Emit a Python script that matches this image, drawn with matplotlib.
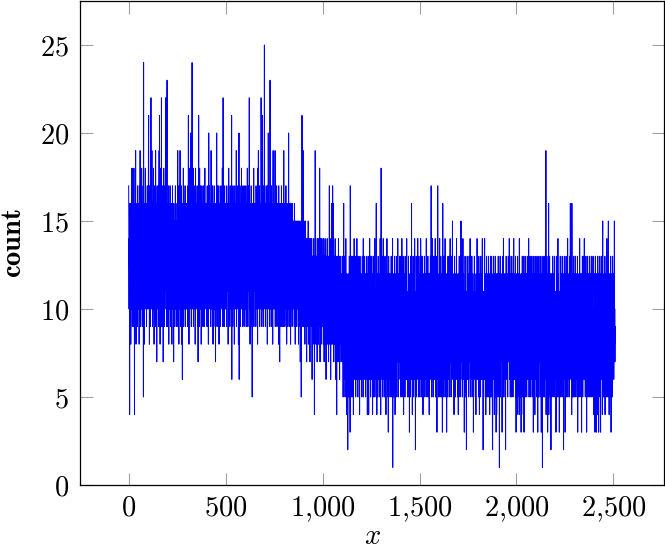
import numpy as np
import matplotlib
matplotlib.use("Agg")
import matplotlib.pyplot as plt
from matplotlib.ticker import FuncFormatter

plt.rcParams['mathtext.fontset'] = 'cm'
plt.rcParams['font.family'] = 'serif'

# counts, one value per x step (x = 0 .. 2509)
counts_0 = [
    17, 13, 10, 14, 12, 4, 9, 16, 11, 13, 15, 8, 16, 12, 10, 14, 18, 11, 13, 9, 12, 17, 10, 18, 14, 11, 9, 15, 13, 12, 4, 16, 10, 18, 12, 14, 19, 11, 8, 13, 15, 12, 10, 16, 13, 9, 17, 14, 11, 12,
    14, 10, 16, 12, 8, 17, 13, 11, 15, 19, 12, 9, 14, 16, 11, 13, 10, 18, 15, 12, 9, 16, 13, 11, 14, 17, 5, 24, 10, 15, 12, 8, 13, 16, 11, 14, 18, 10, 12, 15, 13, 16, 9, 11, 14, 12, 17, 10, 13, 15,
    12, 16, 19, 21, 10, 13, 15, 8, 17, 11, 14, 12, 9, 18, 13, 22, 11, 15, 16, 10, 19, 12, 14, 9, 16, 13, 11, 15, 18, 10, 13, 8, 17, 14, 12, 16, 11, 9, 13, 19, 15, 10, 16, 12, 14, 7, 13, 17, 11, 15,
    13, 10, 16, 12, 17, 9, 14, 19, 11, 21, 12, 15, 8, 16, 13, 10, 18, 14, 11, 22, 15, 9, 13, 17, 10, 12, 16, 14, 7, 15, 11, 18, 13, 9, 16, 12, 14, 10, 17, 13, 15, 22, 11, 16, 13, 9, 14, 17, 23, 12,
    13, 16, 9, 14, 11, 15, 17, 8, 13, 12, 16, 10, 14, 12, 17, 11, 15, 9, 14, 10, 13, 16, 12, 8, 15, 11, 17, 13, 10, 14, 15, 12, 7, 16, 13, 10, 11, 15, 9, 14, 12, 17, 10, 13, 16, 11, 14, 12, 9, 15,
    12, 15, 10, 19, 14, 9, 16, 12, 13, 8, 17, 11, 15, 13, 10, 19, 14, 12, 16, 9, 13, 15, 17, 11, 8, 16, 12, 6, 14, 13, 10, 15, 18, 12, 9, 14, 11, 16, 13, 10, 15, 17, 12, 9, 14, 11, 16, 13, 10, 12,
    14, 10, 16, 12, 15, 9, 17, 13, 21, 11, 15, 8, 13, 16, 12, 18, 10, 14, 11, 15, 20, 12, 16, 9, 13, 11, 17, 24, 13, 10, 14, 16, 12, 18, 9, 13, 15, 11, 17, 14, 10, 12, 16, 8, 15, 18, 11, 13, 14, 16,
    13, 15, 10, 17, 12, 9, 16, 14, 7, 15, 11, 21, 13, 16, 9, 12, 18, 11, 15, 14, 17, 10, 13, 16, 8, 14, 12, 11, 17, 13, 10, 15, 14, 9, 16, 12, 17, 11, 13, 15, 9, 14, 12, 18, 10, 16, 13, 11, 14, 12,
    14, 11, 16, 12, 9, 17, 15, 10, 13, 12, 16, 8, 14, 20, 13, 10, 15, 17, 11, 14, 12, 16, 9, 13, 11, 19, 12, 15, 10, 16, 13, 9, 17, 12, 15, 8, 14, 16, 11, 13, 15, 17, 10, 14, 12, 16, 9, 15, 7, 13,
    12, 16, 10, 15, 20, 13, 9, 17, 14, 11, 15, 12, 16, 10, 13, 17, 8, 15, 14, 11, 16, 12, 9, 15, 13, 10, 17, 14, 11, 12, 14, 16, 10, 18, 12, 15, 9, 22, 13, 11, 16, 12, 14, 9, 15, 17, 11, 13, 16, 10,
]
counts_500 = [
    13, 15, 10, 16, 12, 9, 17, 14, 11, 15, 12, 16, 13, 8, 15, 11, 18, 14, 10, 16, 12, 15, 9, 14, 17, 11, 16, 13, 10, 14, 12, 21, 6, 16, 11, 14, 15, 9, 17, 13, 10, 12, 16, 13, 15, 8, 14, 17, 11, 15,
    13, 16, 10, 14, 12, 19, 9, 13, 16, 11, 15, 12, 14, 17, 10, 15, 8, 13, 16, 20, 6, 13, 15, 11, 17, 12, 9, 16, 14, 15, 11, 13, 18, 10, 16, 12, 15, 9, 14, 17, 13, 10, 15, 16, 12, 9, 17, 13, 11, 14,
    16, 12, 14, 10, 17, 13, 9, 15, 11, 16, 12, 14, 18, 10, 13, 9, 16, 11, 15, 13, 17, 12, 22, 10, 15, 13, 8, 16, 14, 11, 15, 12, 17, 9, 14, 16, 11, 5, 15, 12, 13, 16, 10, 15, 12, 18, 9, 14, 16, 11,
    15, 12, 14, 16, 10, 15, 9, 17, 13, 11, 16, 10, 15, 12, 14, 8, 18, 15, 11, 19, 13, 16, 10, 12, 15, 17, 9, 14, 13, 16, 11, 15, 10, 22, 14, 12, 16, 9, 11, 15, 21, 14, 10, 16, 13, 15, 9, 17, 12, 13,
    25, 12, 15, 10, 16, 13, 9, 15, 11, 17, 12, 14, 16, 10, 15, 8, 14, 17, 11, 13, 20, 15, 10, 16, 13, 12, 9, 15, 11, 23, 14, 16, 10, 12, 15, 9, 17, 14, 11, 16, 12, 15, 13, 8, 16, 19, 10, 15, 12, 14,
    13, 16, 10, 15, 12, 19, 9, 14, 11, 16, 12, 15, 10, 17, 13, 9, 15, 11, 16, 12, 14, 10, 15, 8, 17, 12, 14, 16, 11, 7, 15, 12, 10, 16, 13, 9, 15, 11, 17, 12, 14, 16, 9, 15, 12, 10, 14, 16, 11, 9,
    19, 12, 15, 10, 14, 16, 9, 13, 15, 11, 14, 17, 10, 12, 15, 8, 14, 16, 11, 13, 15, 9, 14, 10, 12, 20, 11, 15, 13, 9, 14, 16, 10, 12, 15, 8, 13, 11, 16, 12, 10, 15, 12, 9, 14, 16, 11, 12, 15, 10,
    14, 11, 13, 15, 9, 16, 12, 10, 14, 8, 15, 12, 10, 14, 11, 13, 15, 9, 14, 11, 13, 10, 15, 11, 14, 12, 8, 15, 10, 13, 14, 9, 12, 15, 11, 7, 14, 13, 10, 15, 5, 12, 14, 10, 21, 13, 12, 9, 14, 11,
    19, 11, 14, 9, 13, 15, 10, 12, 14, 8, 13, 11, 15, 9, 12, 10, 14, 12, 7, 13, 11, 14, 9, 13, 10, 12, 15, 8, 13, 11, 9, 14, 12, 10, 13, 7, 12, 14, 10, 13, 11, 9, 13, 10, 14, 12, 6, 13, 10, 12,
    13, 10, 12, 9, 14, 11, 8, 12, 4, 11, 13, 9, 19, 10, 12, 14, 8, 13, 9, 11, 10, 13, 7, 12, 14, 10, 9, 13, 11, 8, 14, 10, 12, 13, 9, 18, 11, 7, 13, 9, 12, 14, 10, 8, 13, 11, 9, 14, 10, 12,
]
counts_1000 = [
    11, 13, 9, 12, 8, 14, 10, 12, 7, 13, 11, 9, 10, 14, 8, 12, 13, 10, 6, 12, 10, 13, 9, 11, 14, 8, 9, 12, 10, 13, 11, 7, 10, 9, 13, 17, 12, 8, 10, 14, 9, 12, 6, 13, 10, 11, 16, 9, 8, 12,
    10, 9, 17, 12, 8, 13, 16, 10, 7, 12, 9, 11, 13, 8, 12, 14, 9, 11, 6, 12, 13, 10, 9, 4, 12, 8, 11, 13, 9, 10, 7, 11, 14, 9, 12, 8, 10, 13, 6, 11, 10, 8, 12, 11, 13, 9, 7, 12, 10, 9,
    9, 12, 7, 10, 13, 8, 5, 10, 9, 16, 7, 11, 6, 9, 13, 10, 5, 9, 12, 8, 14, 7, 11, 9, 4, 12, 8, 10, 6, 11, 2, 9, 12, 7, 10, 5, 11, 9, 13, 8, 10, 6, 3, 17, 9, 7, 12, 10, 5, 13,
    8, 11, 6, 12, 9, 5, 13, 8, 10, 4, 9, 12, 7, 14, 8, 11, 6, 9, 13, 7, 10, 5, 9, 11, 6, 12, 8, 14, 7, 9, 11, 8, 5, 10, 13, 7, 9, 6, 12, 8, 10, 4, 9, 13, 7, 8, 11, 6, 10, 12,
    7, 11, 9, 5, 10, 13, 8, 6, 12, 9, 14, 5, 10, 8, 13, 7, 9, 11, 6, 10, 8, 12, 5, 9, 11, 6, 13, 8, 7, 12, 9, 4, 10, 7, 11, 13, 6, 8, 4, 10, 12, 7, 9, 14, 6, 11, 8, 13, 5, 9,
    10, 6, 13, 9, 7, 12, 8, 11, 4, 10, 7, 13, 8, 5, 10, 9, 12, 6, 8, 14, 5, 9, 11, 8, 6, 10, 13, 16, 7, 9, 4, 10, 7, 12, 9, 5, 8, 13, 7, 11, 9, 6, 12, 8, 10, 5, 9, 14, 7, 8,
    4, 9, 18, 7, 11, 8, 13, 6, 9, 12, 8, 5, 10, 14, 7, 9, 11, 12, 6, 10, 5, 9, 13, 8, 7, 12, 9, 4, 10, 8, 11, 6, 14, 7, 10, 12, 8, 5, 9, 3, 10, 13, 6, 11, 8, 7, 12, 9, 5, 10,
    9, 12, 6, 8, 13, 5, 10, 9, 7, 11, 8, 14, 1, 9, 6, 10, 12, 5, 8, 11, 9, 7, 13, 8, 4, 11, 9, 6, 12, 8, 7, 10, 5, 13, 9, 8, 11, 7, 14, 10, 5, 8, 12, 9, 6, 10, 7, 13, 8, 9,
    10, 7, 13, 11, 5, 8, 12, 9, 6, 14, 8, 5, 11, 9, 7, 13, 8, 10, 4, 9, 12, 8, 6, 10, 9, 5, 13, 7, 11, 8, 9, 12, 6, 8, 14, 7, 10, 9, 5, 8, 11, 7, 9, 13, 8, 5, 10, 12, 3, 11,
    8, 10, 5, 9, 13, 7, 8, 12, 6, 16, 7, 11, 9, 4, 12, 8, 6, 13, 9, 10, 5, 9, 12, 7, 8, 14, 6, 10, 9, 2, 11, 8, 6, 13, 9, 5, 10, 8, 12, 7, 9, 14, 6, 8, 11, 5, 9, 13, 8, 6,
]
counts_1500 = [
    10, 8, 5, 12, 9, 6, 14, 8, 10, 7, 13, 5, 11, 8, 7, 10, 13, 9, 4, 8, 12, 7, 9, 11, 6, 10, 13, 8, 5, 10, 8, 12, 6, 9, 7, 14, 8, 11, 5, 9, 10, 6, 8, 13, 9, 5, 11, 8, 12, 7,
    4, 9, 12, 7, 10, 6, 13, 8, 9, 11, 17, 7, 10, 5, 9, 12, 8, 14, 6, 11, 9, 5, 10, 8, 13, 7, 9, 12, 6, 8, 10, 14, 7, 11, 5, 9, 10, 8, 13, 6, 3, 10, 8, 9, 17, 12, 6, 9, 11, 5,
    9, 12, 6, 10, 14, 5, 12, 9, 7, 10, 13, 8, 5, 9, 11, 7, 12, 8, 3, 9, 16, 8, 11, 6, 10, 13, 5, 9, 8, 12, 7, 9, 14, 6, 10, 8, 5, 12, 7, 11, 3, 8, 12, 9, 6, 10, 5, 13, 8, 9,
    10, 6, 9, 13, 8, 5, 11, 9, 14, 7, 8, 12, 9, 5, 10, 7, 13, 8, 9, 11, 15, 8, 6, 10, 12, 7, 11, 8, 4, 10, 9, 13, 6, 8, 11, 5, 12, 9, 7, 10, 8, 14, 6, 9, 12, 7, 10, 5, 9, 8,
    4, 9, 12, 7, 10, 13, 6, 11, 9, 5, 10, 8, 13, 6, 15, 9, 7, 11, 8, 12, 9, 5, 10, 8, 14, 7, 9, 12, 6, 10, 8, 3, 11, 9, 6, 13, 8, 12, 5, 9, 10, 7, 2, 11, 8, 9, 13, 6, 10, 8,
    9, 12, 6, 10, 5, 8, 13, 9, 7, 11, 8, 14, 6, 9, 11, 5, 12, 8, 10, 6, 13, 8, 11, 7, 9, 12, 5, 10, 3, 8, 11, 6, 9, 13, 7, 8, 12, 9, 5, 10, 8, 4, 11, 9, 7, 12, 8, 14, 6, 9,
    10, 7, 9, 12, 8, 5, 13, 9, 7, 4, 10, 8, 12, 6, 9, 5, 13, 8, 11, 6, 9, 12, 7, 8, 14, 6, 11, 9, 2, 10, 8, 5, 11, 9, 6, 13, 14, 8, 9, 7, 12, 8, 4, 10, 9, 6, 13, 8, 5, 11,
    9, 12, 6, 8, 11, 5, 13, 9, 7, 10, 8, 12, 4, 9, 6, 11, 13, 5, 8, 10, 9, 7, 13, 8, 5, 10, 3, 2, 9, 12, 7, 10, 8, 13, 6, 9, 4, 11, 8, 12, 5, 9, 13, 8, 11, 3, 9, 12, 4, 8,
    10, 6, 9, 12, 8, 5, 13, 9, 7, 11, 8, 12, 1, 9, 6, 10, 13, 5, 8, 11, 9, 7, 12, 8, 10, 5, 3, 9, 13, 8, 6, 10, 9, 14, 5, 8, 12, 9, 6, 11, 8, 12, 5, 9, 2, 10, 7, 13, 8, 9,
    10, 6, 9, 12, 8, 5, 11, 9, 13, 7, 8, 12, 9, 14, 10, 6, 13, 8, 5, 10, 9, 6, 12, 8, 11, 5, 13, 9, 7, 10, 8, 12, 5, 9, 6, 11, 14, 8, 9, 6, 10, 8, 12, 7, 9, 13, 5, 10, 3, 8,
]
counts_2000 = [
    9, 12, 6, 4, 10, 8, 13, 5, 9, 11, 7, 12, 8, 9, 4, 14, 10, 6, 12, 8, 9, 5, 11, 8, 3, 12, 9, 4, 10, 7, 13, 8, 9, 12, 5, 10, 8, 6, 13, 3, 9, 11, 6, 12, 8, 5, 13, 9, 7, 10,
    8, 12, 9, 5, 10, 6, 13, 8, 9, 12, 6, 10, 8, 14, 9, 5, 11, 8, 12, 6, 13, 9, 5, 10, 8, 12, 6, 9, 13, 7, 10, 5, 9, 12, 7, 8, 13, 3, 10, 9, 6, 12, 8, 11, 9, 4, 13, 6, 9, 10,
    8, 12, 6, 9, 11, 5, 13, 8, 9, 6, 3, 10, 8, 12, 5, 9, 13, 7, 10, 8, 9, 12, 5, 10, 8, 6, 13, 9, 3, 10, 8, 12, 6, 9, 1, 10, 8, 13, 5, 9, 11, 6, 12, 8, 9, 5, 13, 10, 6, 9,
    11, 8, 19, 4, 10, 6, 9, 13, 8, 5, 10, 3, 9, 12, 6, 8, 16, 4, 10, 9, 6, 13, 8, 5, 10, 9, 12, 6, 2, 10, 8, 12, 5, 9, 11, 6, 13, 8, 9, 5, 10, 8, 12, 6, 9, 13, 5, 10, 8, 9,
    11, 6, 9, 10, 3, 8, 13, 9, 5, 10, 8, 12, 6, 9, 14, 5, 12, 8, 9, 6, 10, 3, 11, 8, 9, 6, 13, 5, 10, 8, 9, 12, 6, 10, 8, 5, 13, 9, 6, 10, 8, 12, 5, 2, 9, 10, 6, 13, 8, 9,
    10, 3, 9, 12, 6, 8, 13, 9, 5, 10, 8, 12, 6, 9, 14, 5, 12, 8, 9, 6, 10, 8, 12, 5, 9, 6, 13, 10, 16, 8, 9, 12, 6, 10, 8, 4, 16, 9, 5, 10, 8, 12, 5, 9, 11, 6, 13, 8, 9, 5,
    10, 8, 12, 6, 9, 13, 5, 10, 8, 9, 12, 6, 10, 8, 5, 13, 3, 9, 11, 6, 8, 12, 9, 5, 10, 6, 14, 8, 9, 12, 6, 10, 8, 5, 9, 12, 3, 10, 8, 6, 13, 9, 5, 10, 8, 12, 6, 9, 13, 8,
    14, 6, 9, 12, 8, 5, 10, 9, 13, 6, 8, 12, 3, 9, 11, 6, 13, 8, 5, 10, 9, 6, 12, 8, 10, 5, 13, 9, 6, 10, 8, 12, 5, 9, 6, 11, 13, 8, 9, 5, 10, 8, 12, 6, 9, 13, 5, 10, 8, 4,
    4, 10, 8, 12, 6, 3, 9, 13, 8, 10, 5, 9, 3, 12, 6, 10, 8, 4, 13, 9, 6, 10, 8, 12, 3, 9, 5, 13, 8, 10, 6, 12, 9, 5, 3, 10, 8, 13, 6, 9, 12, 8, 10, 4, 9, 15, 6, 10, 8, 5,
    9, 12, 6, 10, 8, 5, 13, 4, 9, 10, 6, 12, 8, 9, 5, 10, 14, 8, 12, 6, 10, 9, 5, 13, 15, 8, 10, 6, 4, 9, 12, 8, 5, 10, 9, 6, 13, 8, 3, 10, 9, 6, 12, 8, 10, 5, 13, 9, 7, 10,
    8, 12, 6, 9, 7, 15, 8, 10, 7, 9,
]

count = np.array(counts_0 + counts_500 + counts_1000 + counts_1500 + counts_2000)
x = np.arange(len(count))

fig = plt.figure(figsize=(6.65, 5.55), dpi=100)
ax = fig.add_axes([80 / 665, 70 / 555, 584 / 665, 484 / 555])

ax.plot(x, count, color='#0000ff', linewidth=0.7)

ax.set_xlim(-251, 2761)
ax.set_ylim(0, 27.5)
ax.set_xticks([0, 500, 1000, 1500, 2000, 2500])
ax.set_yticks([0, 5, 10, 15, 20, 25])


def fmt(v, pos):
    return '$' + f'{v:,.0f}'.replace(',', '{,}') + '$'


ax.xaxis.set_major_formatter(FuncFormatter(fmt))
ax.yaxis.set_major_formatter(FuncFormatter(fmt))

ax.tick_params(direction='in', length=9, width=0.8, color='#a0a0a0',
               top=True, right=True, labelsize=20.5)
ax.tick_params(axis='x', pad=7)
ax.tick_params(axis='y', pad=8)
for s in ax.spines.values():
    s.set_linewidth(0.9)

ax.set_xlabel('$x$', fontsize=20.5, labelpad=-1)
ax.set_ylabel(r'$\mathbf{count}$', fontsize=20.5, labelpad=9)

fig.savefig('out.png', dpi=100)
